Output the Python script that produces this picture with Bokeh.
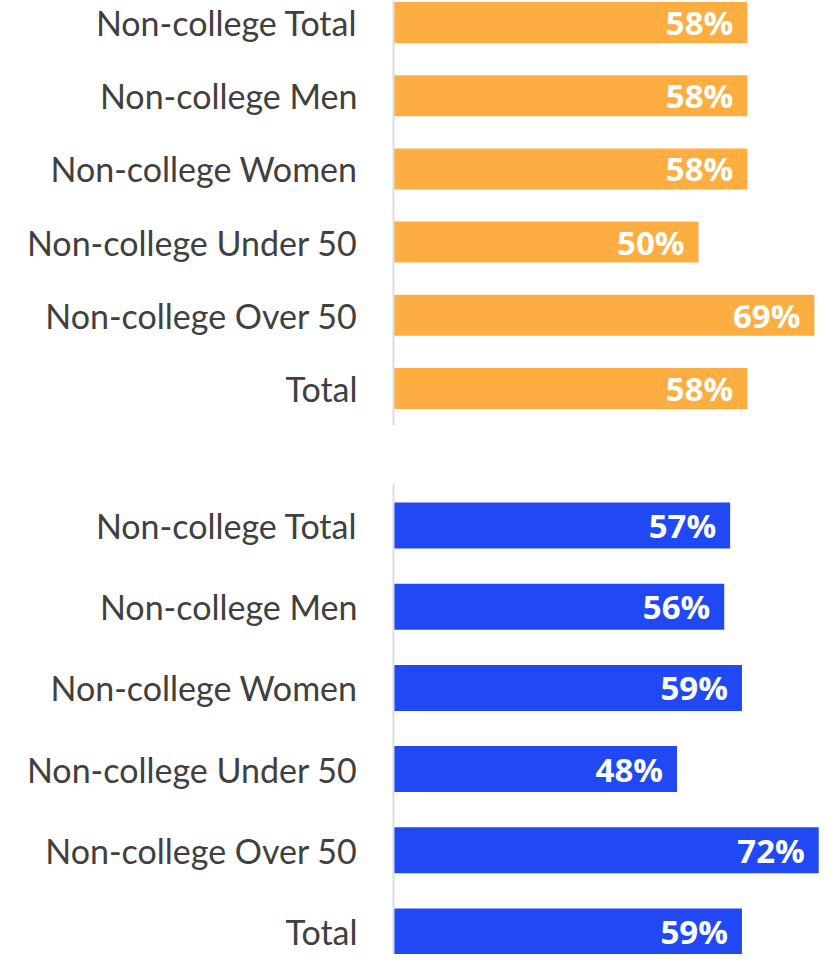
from bokeh.plotting import figure
from bokeh.layouts import column
from bokeh.models import ColumnDataSource, Range1d, FixedTicker
from bokeh.core.properties import value
from bokeh.embed import file_html
from bokeh.resources import INLINE

categories = ["Non-college Total", "Non-college Men", "Non-college Women",
              "Non-college Under 50", "Non-college Over 50", "Total"]
orange_values = [58, 58, 58, 50, 69, 58]
blue_values = [57, 56, 59, 48, 72, 59]

ORANGE = "#FEAE40"
BLUE = "#2049F3"
LABEL_FONT = "Lato"
VALUE_FONT = "Open Sans"


def make_panel(values, color, height, y_start, y_end, x_end, bar_h, border_top):
    n = len(categories)
    pos = [n - 1 - i for i in range(n)]
    src = ColumnDataSource(dict(
        y=pos, v=values, lab=[f"{v}%" for v in values]))
    p = figure(width=820, height=height, output_backend="svg",
               toolbar_location=None,
               x_range=Range1d(0, x_end), y_range=Range1d(y_start, y_end),
               min_border_left=393, min_border_right=0,
               min_border_top=border_top, min_border_bottom=0)
    p.outline_line_color = None
    p.xgrid.visible = False
    p.ygrid.visible = False
    p.xaxis.visible = False
    p.hbar(y="y", left=0, right="v", height=bar_h, source=src,
           fill_color=color, line_color=None)
    p.text(x="v", y="y", text="lab", source=src, x_offset=-14,
           text_align="right", text_baseline="middle",
           text_color="white", text_font=value(VALUE_FONT),
           text_font_style="bold", text_font_size="33px")
    ax = p.yaxis[0]
    ax.ticker = FixedTicker(ticks=pos)
    ax.major_label_overrides = {pos[i]: categories[i] for i in range(n)}
    ax.major_tick_line_color = None
    ax.minor_tick_line_color = None
    ax.major_tick_in = 0
    ax.major_tick_out = 0
    ax.major_label_standoff = 36
    ax.axis_line_color = "#D9DDE6"
    ax.axis_line_width = 2
    ax.major_label_text_font = LABEL_FONT
    ax.major_label_text_font_size = "34px"
    ax.major_label_text_color = "#404040"
    return p


p1 = make_panel(orange_values, ORANGE, 425, -0.505, 5.30, 70.0, 0.56, 0)
p2 = make_panel(blue_values, BLUE, 529, -0.283, 5.517, 72.3, 0.566, 58)

layout = column(p1, p2, spacing=0)
open("out.html", "w").write(file_html(layout, INLINE))
